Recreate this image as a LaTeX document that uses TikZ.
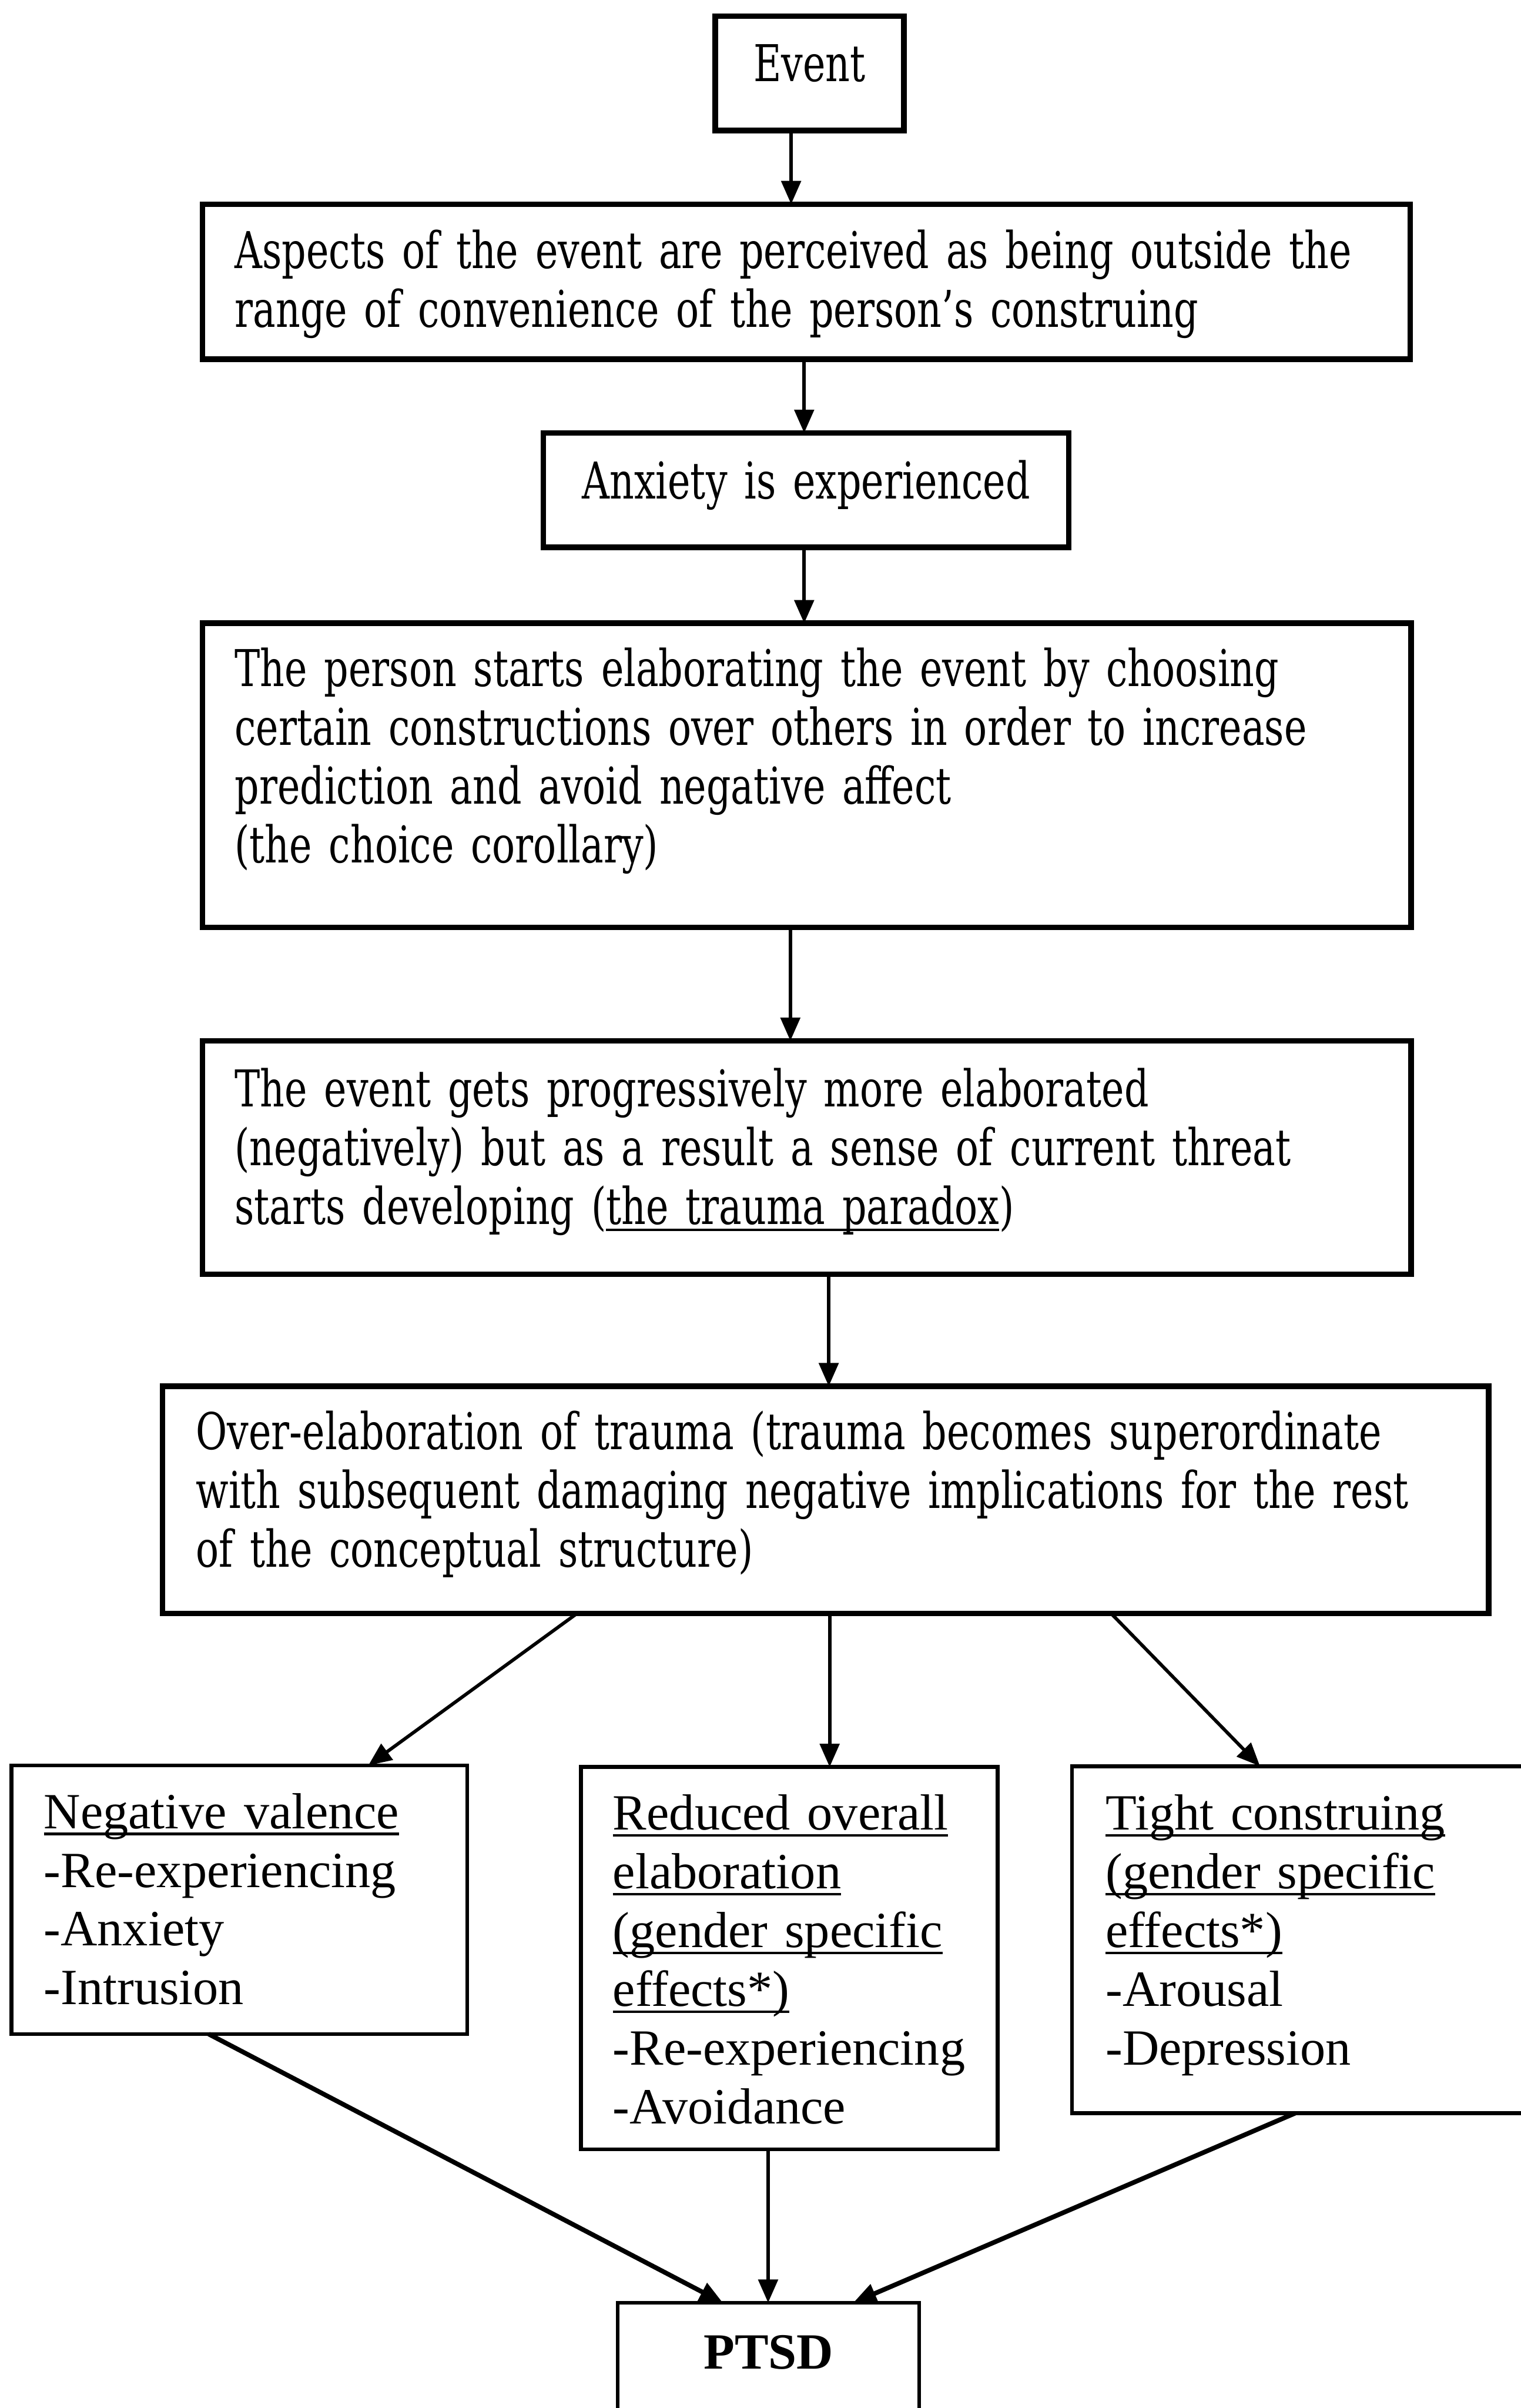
\documentclass[tikz,border=0pt]{standalone}
\usepackage{fontspec}
\setmainfont{Liberation Serif}
\newfontfamily\centfont[FakeStretch=0.752]{DejaVu Serif}
\usetikzlibrary{arrows.meta,calc}

% underline at a fixed depth below the baseline
\newsavebox\undlbox
\newcommand\undl[1]{\leavevmode\sbox\undlbox{#1}\rlap{\rule[-1.6pt]{\wd\undlbox}{0.6pt}}\usebox\undlbox}

\def\pxu{0.363}

\tikzset{
  % place={left}{top}{right}{first baseline}{bottom}{text left}
  place/.code n args={6}{%
    \pgfmathsetmacro\plH{(#4-#2)*\pxu}%
    \pgfmathsetmacro\plD{(#5-#4)*\pxu}%
    \pgfmathsetmacro\plX{(#6-#1)*\pxu}%
    \pgfmathsetmacro\plW{(#3-#1)*\pxu-2*\plX}%
    \edef\pltmp{\noexpand\pgfkeysalso{anchor=north west,text height=\plH pt,
      text depth=\plD pt,inner xsep=\plX pt,inner ysep=0pt,text width=\plW pt}}%
    \pltmp
  },
  topbox/.style={draw,line width=1.3pt,outer sep=0pt,align=left,
    font=\centfont\fontsize{12}{13.9}\selectfont},
  lowbox/.style={draw,line width=0.9pt,outer sep=0pt,align=left,
    font=\fontsize{12}{13.9}\selectfont},
  arr/.style={-{Triangle[length=5.5pt,width=4.6pt]},line width=0.8pt},
  arrthick/.style={arr,line width=1.1pt},
}

\begin{document}
\begin{tikzpicture}[x=0.363pt,y=-0.363pt]
\useasboundingbox (0,0) rectangle (991,1568.6);
\clip (0,0) rectangle (991,1568.6);

% upper chain
\node[topbox,align=center,place={466}{10.5}{589}{53}{85}{476}] (event) at (466,10.5) {Event};

\node[topbox,place={132}{133}{919}{175}{234}{153}] (b2) at (132,133)
  {\mbox{Aspects of the event are perceived as being outside the}\\
   range of convenience of the person’s construing};

\node[topbox,align=center,place={354}{282}{696.5}{325}{356.5}{364}] (b3) at (354,282)
  {Anxiety is experienced};

\node[topbox,place={132}{406}{919.5}{447}{604}{153}] (b4) at (132,406)
  {The person starts elaborating the event by choosing\\
   certain constructions over others in order to increase\\
   prediction and avoid negative affect\\
   (the choice corollary)};

\node[topbox,place={132}{678}{919.5}{721}{830}{153}] (b5) at (132,678)
  {The event gets progressively more elaborated\\
   (negatively) but as a result a sense of current threat\\
   starts developing (\undl{the trauma paradox})};

\node[topbox,place={106}{903}{970}{944}{1051}{127.7}] (b6) at (106,903)
  {Over-elaboration of trauma (trauma becomes superordinate\\
   \mbox{with subsequent damaging negative implications for the rest}\\
   of the conceptual structure)};

% three outcome boxes
\node[lowbox,place={7.5}{1150}{304.5}{1191}{1325}{28.6}] (nv) at (7.5,1150)
  {\undl{Negative valence}\\
   -Re-experiencing\\
   -Anxiety\\
   -Intrusion};

\node[lowbox,place={378.5}{1151}{650}{1192}{1400}{399.4}] (red) at (378.5,1151)
  {\undl{Reduced overall}\\
   \undl{elaboration}\\
   \undl{(gender specific}\\
   \undl{effects*)}\\
   -Re-experiencing\\
   -Avoidance};

\node[lowbox,place={698.5}{1150.5}{1010}{1192}{1376.5}{720.5}] (tight) at (698.5,1150.5)
  {\undl{Tight construing}\\
   \undl{(gender specific}\\
   \undl{effects*)}\\
   -Arousal\\
   -Depression};

\node[lowbox,align=center,font=\bfseries\fontsize{12}{13.9}\selectfont,
  place={402.5}{1500}{599}{1543}{1600}{412}] (ptsd) at (402.5,1500) {PTSD};

% connectors
\draw[arr] ($(event.south west)+(49.5,0)$) -- ($(b2.north west)+(383.5,0)$);
\draw[arr] ($(b2.south west)+(392,0)$) -- ($(b3.north west)+(170,0)$);
\draw[arr] ($(b3.south west)+(170,0)$) -- ($(b4.north west)+(392,0)$);
\draw[arr] ($(b4.south west)+(383,0)$) -- ($(b5.north west)+(383,0)$);
\draw[arr] ($(b5.south west)+(408,0)$) -- ($(b6.north west)+(434,0)$);

\draw[arr] ($(b6.south west)+(270,0)$) -- ($(nv.north west)+(232.5,0)$);
\draw[arr] ($(b6.south west)+(434.6,0)$) -- ($(red.north west)+(162.1,0)$);
\draw[arr] ($(b6.south west)+(618,0)$) -- ($(tight.north west)+(122.5,0)$);

\draw[arrthick] ($(nv.south west)+(128.5,0)$) -- ($(ptsd.north west)+(68.5,0)$);
\draw[arr] ($(red.south west)+(122,0)$) -- ($(ptsd.north west)+(98,0)$);
\draw[arrthick] ($(tight.south west)+(145.5,0)$) -- ($(ptsd.north west)+(153.5,0)$);
\end{tikzpicture}
\end{document}
